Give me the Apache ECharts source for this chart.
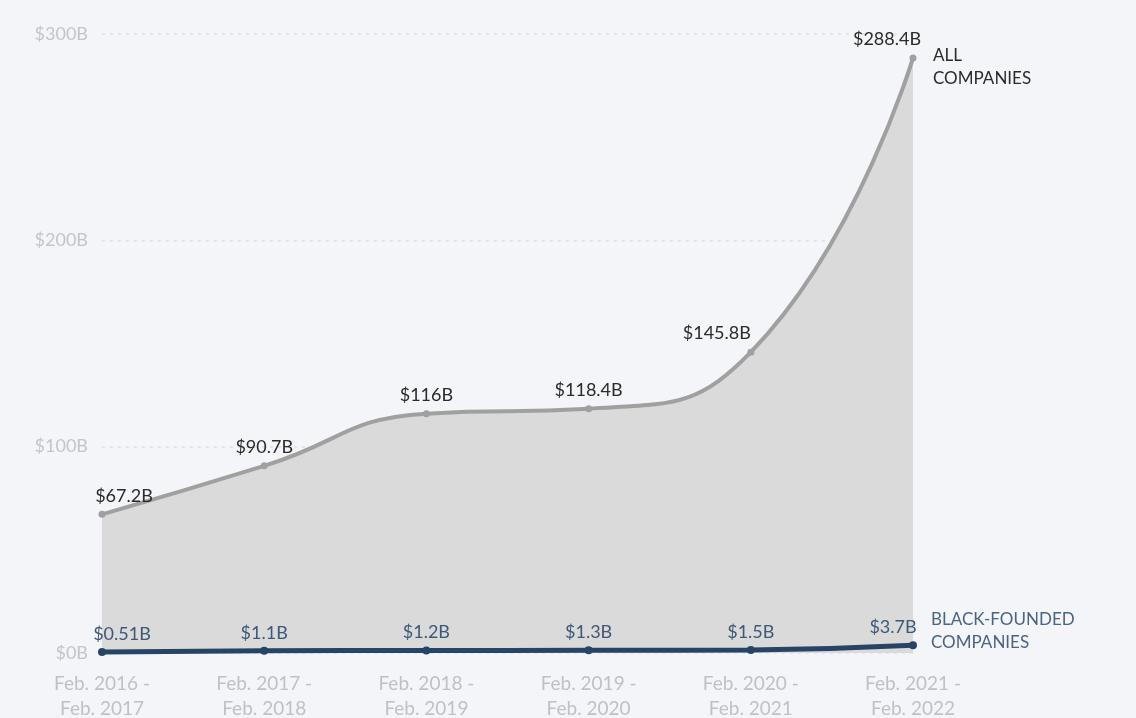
<!DOCTYPE html>
<html>
<head>
<meta charset="utf-8">
<script src="https://cdn.jsdelivr.net/npm/echarts@6/dist/echarts.min.js"></script>
<style>
  html, body { margin: 0; padding: 0; background: #f4f5f9; }
  #chart { width: 1136px; height: 718px; }
</style>
</head>
<body>
<div id="chart"></div>
<script>
// Funding periods (x axis)
const periods = [
  'Feb. 2016 -\nFeb. 2017',
  'Feb. 2017 -\nFeb. 2018',
  'Feb. 2018 -\nFeb. 2019',
  'Feb. 2019 -\nFeb. 2020',
  'Feb. 2020 -\nFeb. 2021',
  'Feb. 2021 -\nFeb. 2022'
];
// Total venture funding, billions USD
const allCompanies = [67.2, 90.7, 116, 118.4, 145.8, 288.4];
const allLabels = ['$67.2B', '$90.7B', '$116B', '$118.4B', '$145.8B', '$288.4B'];
// Funding to Black-founded companies, billions USD
const blackFounded = [0.51, 1.1, 1.2, 1.3, 1.5, 3.7];
const blackLabels = ['$0.51B', '$1.1B', '$1.2B', '$1.3B', '$1.5B', '$3.7B'];

const FONT = 'Lato, "Open Sans", sans-serif';

// nudge a few value labels sideways so they clear the line
const allOffsets = [[22, 0], [0, 0], [0, 0], [0, 0], [-34, 0], [-26, 0]];
const blackOffsets = [[20, 0], [0, 0], [0, 0], [0, 0], [0, 0], [-20, 0]];

const chart = echarts.init(document.getElementById('chart'));
chart.setOption({
  backgroundColor: '#f4f5f9',
  animation: false,
  grid: { left: 102, right: 223, top: 34, bottom: 65, containLabel: false, outerBoundsMode: 'none' },
  xAxis: {
    type: 'category',
    data: periods,
    boundaryGap: false,
    axisLine: { show: false },
    axisTick: { show: false },
    axisLabel: {
      color: '#c0c1c5',
      fontFamily: FONT,
      fontSize: 19,
      lineHeight: 25,
      margin: 18,
      interval: 0
    },
    splitLine: { show: false }
  },
  yAxis: {
    type: 'value',
    min: 0,
    max: 300,
    interval: 100,
    axisLine: { show: false },
    axisTick: { show: false },
    axisLabel: {
      color: '#c4c5c9',
      fontFamily: FONT,
      fontSize: 18,
      margin: 14,
      formatter: v => '$' + v + 'B'
    },
    splitLine: {
      lineStyle: { color: '#e3e5ea', type: [3, 5], width: 2 }
    }
  },
  series: [
    {
      name: 'All companies',
      type: 'line',
      smooth: 0.5,
      data: allCompanies.map((v, i) => ({
        value: v,
        label: { offset: allOffsets[i] }
      })),
      symbol: 'circle',
      symbolSize: 7,
      lineStyle: { color: '#a0a0a0', width: 4 },
      itemStyle: { color: '#a0a0a0' },
      areaStyle: { color: '#dadada', opacity: 1 },
      label: {
        show: true,
        position: 'top',
        distance: 6,
        color: '#2b2b2b',
        fontFamily: FONT,
        fontSize: 18,
        formatter: p => allLabels[p.dataIndex]
      },
      endLabel: {
        show: true,
        formatter: 'ALL\nCOMPANIES',
        color: '#2b2b2b',
        fontFamily: FONT,
        fontSize: 17,
        lineHeight: 23,
        align: 'left',
        offset: [12, 9]
      },
      z: 2
    },
    {
      name: 'Black-founded companies',
      type: 'line',
      smooth: 0.5,
      data: blackFounded.map((v, i) => ({
        value: v,
        label: { offset: blackOffsets[i] }
      })),
      symbol: 'circle',
      symbolSize: 8,
      lineStyle: { color: '#264566', width: 5 },
      itemStyle: { color: '#264566' },
      label: {
        show: true,
        position: 'top',
        distance: 5,
        color: '#3e5877',
        fontFamily: FONT,
        fontSize: 18,
        formatter: p => blackLabels[p.dataIndex]
      },
      endLabel: {
        show: true,
        formatter: 'BLACK-FOUNDED\nCOMPANIES',
        color: '#4b6483',
        fontFamily: FONT,
        fontSize: 17,
        lineHeight: 23,
        align: 'left',
        offset: [10, -14]
      },
      z: 3
    }
  ]
});
</script>
</body>
</html>
